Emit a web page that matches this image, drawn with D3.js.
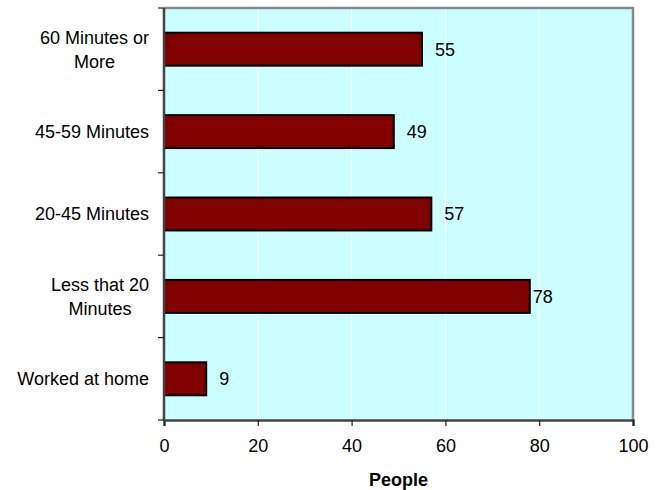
<!DOCTYPE html>
<html>
<head>
<meta charset="utf-8">
<script src="https://cdn.jsdelivr.net/npm/d3@7"></script>
<style>
  body { margin: 0; background: #fff; }
  text { font-family: "Liberation Sans", Arial, sans-serif; fill: #000; }
</style>
</head>
<body>
<script>
// chart data, top to bottom as drawn
var categories = [
  ['60 Minutes or', 'More'],
  ['45-59 Minutes'],
  ['20-45 Minutes'],
  ['Less that 20', 'Minutes'],
  ['Worked at home']
];
var people = [55, 49, 57, 78, 9];
var xTicks = [0, 20, 40, 60, 80, 100];
var xTitle = 'People';

var width = 665;
var height = 490;
var margin = { top: 8, right: 32, bottom: 70, left: 164 };
var plotW = width - margin.left - margin.right;
var plotH = height - margin.top - margin.bottom;
var fontSize = 18;

var svg = d3.select('body')
  .append('svg')
  .attr('width', width)
  .attr('height', height);

var x = d3.scaleLinear()
  .domain([0, 100])
  .range([0, plotW]);

var y = d3.scaleBand()
  .domain(d3.range(categories.length))
  .range([0, plotH])
  .paddingInner(0.6)
  .paddingOuter(0.3);

var g = svg.append('g')
  .attr('transform', 'translate(' + margin.left + ',' + margin.top + ')');

// plot background
g.append('rect')
  .attr('width', plotW)
  .attr('height', plotH)
  .attr('fill', '#ccffff');

// white vertical gridlines
g.selectAll('line.grid')
  .data(xTicks.slice(1, -1))
  .enter()
  .append('line')
  .classed('grid', true)
  .attr('x1', function(d) { return x(d); })
  .attr('x2', function(d) { return x(d); })
  .attr('y1', 0)
  .attr('y2', plotH)
  .attr('stroke', '#ffffff')
  .attr('stroke-width', 1);

// top and right border
g.append('path')
  .attr('d', 'M0,0H' + plotW + 'V' + plotH)
  .attr('fill', 'none')
  .attr('stroke', '#888888')
  .attr('stroke-width', 2.5);

// bars
g.selectAll('rect.bar')
  .data(people)
  .enter()
  .append('rect')
  .classed('bar', true)
  .attr('x', x(0))
  .attr('y', function(d, i) { return y(i); })
  .attr('width', function(d) { return x(d) - x(0); })
  .attr('height', y.bandwidth())
  .attr('fill', '#800000')
  .attr('stroke', '#000000')
  .attr('stroke-width', 2);

// value labels
g.selectAll('text.value')
  .data(people)
  .enter()
  .append('text')
  .classed('value', true)
  .text(function(d) { return d; })
  .attr('x', function(d) {
    // the longest bar has its label squeezed up against the end
    return x(d) + (d > 70 ? 3 : 13);
  })
  .attr('y', function(d, i) { return y(i) + y.bandwidth() / 2; })
  .attr('dy', '0.35em')
  .attr('font-size', fontSize);

// x axis
var xAxis = g.append('g')
  .attr('transform', 'translate(0,' + plotH + ')')
  .call(d3.axisBottom(x).tickValues(xTicks).tickSize(6).tickPadding(13));
xAxis.select('.domain').attr('stroke', '#444444').attr('stroke-width', 2.5);
xAxis.selectAll('.tick line').attr('stroke', '#222222').attr('stroke-width', 1.2);
xAxis.selectAll('text')
  .attr('font-size', fontSize)
  .attr('font-family', '"Liberation Sans", Arial, sans-serif')
  .attr('fill', '#000');

// y axis: line plus ticks on category boundaries
var step = plotH / categories.length;
var boundaries = d3.range(categories.length + 1).map(function(i) { return i * step; });
g.append('line')
  .attr('x1', 0).attr('x2', 0)
  .attr('y1', 0).attr('y2', plotH + 1)
  .attr('stroke', '#444444')
  .attr('stroke-width', 2.5);
g.selectAll('line.ytick')
  .data(boundaries)
  .enter()
  .append('line')
  .classed('ytick', true)
  .attr('x1', -6).attr('x2', 0)
  .attr('y1', function(d) { return d; })
  .attr('y2', function(d) { return d; })
  .attr('stroke', '#222222')
  .attr('stroke-width', 1.2);

// category labels: right-aligned block, lines centred within it
var lineH = 24;
categories.forEach(function(lines, i) {
  var cy = y(i) + y.bandwidth() / 2;
  var grp = g.append('g');
  var texts = grp.selectAll('text')
    .data(lines)
    .enter()
    .append('text')
    .text(function(d) { return d; })
    .attr('font-size', fontSize)
    .attr('text-anchor', 'middle')
    .attr('dy', '0.35em')
    .attr('y', function(d, j) { return cy + (j - (lines.length - 1) / 2) * lineH; });
  var maxW = d3.max(texts.nodes(), function(n) { return n.getComputedTextLength(); });
  texts.attr('x', -15 - maxW / 2);
});

// axis title
g.append('text')
  .text(xTitle)
  .attr('x', plotW / 2)
  .attr('y', plotH + 66)
  .attr('text-anchor', 'middle')
  .attr('font-size', fontSize)
  .attr('font-weight', 'bold');
</script>
</body>
</html>
